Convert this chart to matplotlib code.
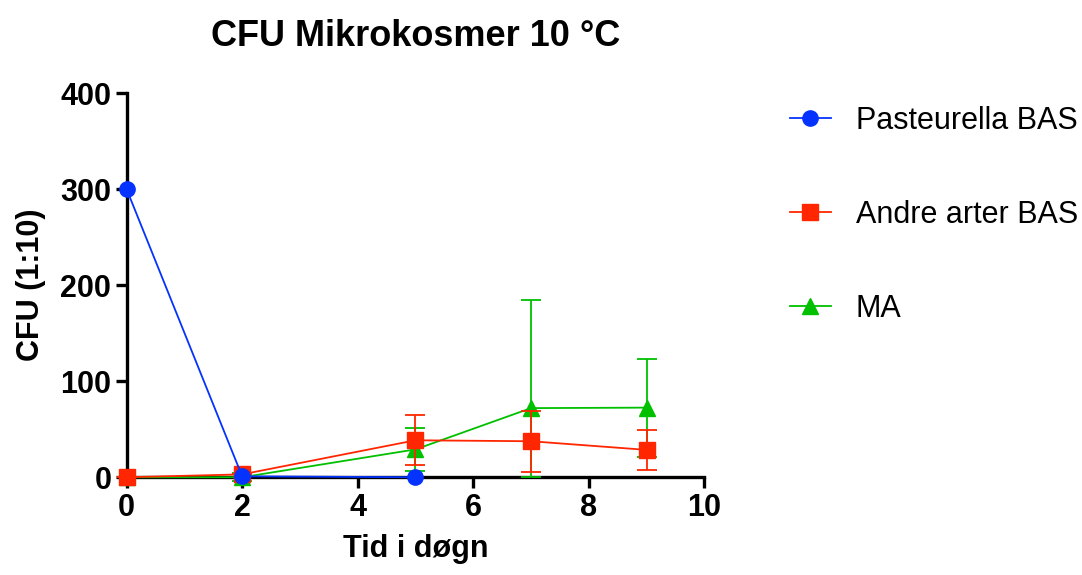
import matplotlib
matplotlib.use("Agg")
import matplotlib.pyplot as plt

plt.rcParams['font.family'] = ['Liberation Sans', 'DejaVu Sans']

days = [0, 2, 5, 7, 9]
past_days = [0, 2, 5]
past_mean = [300, 1, 0]

andre_mean = [0, 3, 38.5, 37.5, 28.5]
andre_lo = [0, 0, 26, 32, 21]
andre_hi = [0, 0, 26, 32, 21]

ma_mean = [0, 0, 29, 72, 72.5]
ma_lo = [0, 4, 22, 72, 51]
ma_hi = [0, 4, 22, 113, 51]

BLUE = "#0433ff"
RED = "#ff2600"
GREEN = "#00c000"

fig = plt.figure(figsize=(10.82, 5.75), dpi=100)
ax = fig.add_axes([0.117, 0.170, 0.534, 0.668])

ma = ax.errorbar(days, ma_mean, yerr=[ma_lo, ma_hi], color=GREEN, marker="^",
                 markersize=11, linewidth=1.3, elinewidth=1.3, capsize=7,
                 capthick=1.3, clip_on=False, zorder=3)
andre = ax.errorbar(days, andre_mean, yerr=[andre_lo, andre_hi], color=RED,
                    marker="s", markersize=11, linewidth=1.3, elinewidth=1.3,
                    capsize=7, capthick=1.3, clip_on=False, zorder=4)
past, = ax.plot(past_days, past_mean, color=BLUE, marker="o", markersize=11,
                linewidth=1.3, clip_on=False, zorder=5)

ax.set_xlim(0, 10)
ax.set_ylim(0, 400)
ax.set_xticks([0, 2, 4, 6, 8, 10])
ax.set_yticks([0, 100, 200, 300, 400])
for s in ("top", "right"):
    ax.spines[s].set_visible(False)
for s in ("left", "bottom"):
    ax.spines[s].set_linewidth(2.4)
ax.tick_params(width=2.4, length=8, labelsize=22, pad=3)
for lbl in ax.get_xticklabels() + ax.get_yticklabels():
    lbl.set_fontweight("bold")

ax.set_xlabel("Tid i døgn", fontsize=22, fontweight="bold", labelpad=8)
ax.set_ylabel("CFU (1:10)", fontsize=22, fontweight="bold", labelpad=10)
ax.set_title("CFU Mikrokosmer 10 °C", fontsize=26, fontweight="bold", pad=34)

fig.legend([past, andre[0], ma[0]],
           ["Pasteurella BAS", "Andre arter BAS", "MA"], loc="upper left",
           bbox_to_anchor=(0.730, 0.816), frameon=False, fontsize=22,
           borderpad=0, borderaxespad=0, labelspacing=2.1,
           handlelength=1.35, handletextpad=0.8)

fig.savefig("out.png", dpi=100)
